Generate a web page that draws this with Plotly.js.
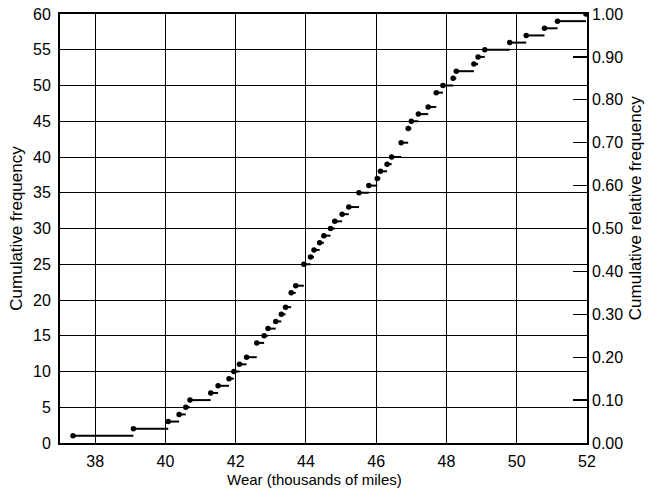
<!DOCTYPE html>
<html>
<head>
<meta charset="utf-8">
<script src="https://cdn.plot.ly/plotly-3.0.1.min.js"></script>
<style>html,body{margin:0;padding:0;background:#fff;}#chart{width:653px;height:493px;}</style>
</head>
<body>
<div id="chart"></div>
<script>
// Wear values (thousands of miles) at which the cumulative frequency steps up
const wear = [37.37, 39.09, 40.08, 40.39, 40.58, 40.70, 41.29, 41.50, 41.81, 41.95,
              42.11, 42.31, 42.60, 42.81, 42.92, 43.14, 43.30, 43.42, 43.58, 43.71,
              43.94, 44.13, 44.23, 44.39, 44.51, 44.70, 44.82, 45.03, 45.22, 45.51,
              45.79, 46.03, 46.12, 46.31, 46.44, 46.71, 46.91, 47.00, 47.20, 47.48,
              47.71, 47.90, 48.19, 48.28, 48.78, 48.90, 49.09, 49.80, 50.27, 50.79,
              51.16, 51.97];
// Cumulative frequency reached at each of those values
const cumFreq = [1, 2, 3, 4, 5, 6, 7, 8, 9, 10,
                 11, 12, 14, 15, 16, 17, 18, 19, 21, 22,
                 25, 26, 27, 28, 29, 30, 31, 32, 33, 35,
                 36, 37, 38, 39, 40, 42, 44, 45, 46, 47,
                 49, 50, 51, 52, 53, 54, 55, 56, 57, 58,
                 59, 60];
const totalCount = 60;
const xTicks = [38, 40, 42, 44, 46, 48, 50, 52];

// horizontal step segments (no risers), built from the data
const segX = [], segY = [];
for (let i = 0; i < wear.length - 1; i++) {
  segX.push(wear[i], wear[i + 1], null);
  segY.push(cumFreq[i], cumFreq[i], null);
}

const FONT = 'Liberation Sans, Arial, sans-serif';

const traces = [
  {x: segX, y: segY, mode: 'lines', line: {color: '#000', width: 2},
   hoverinfo: 'skip', showlegend: false},
  {x: wear, y: cumFreq, mode: 'markers', marker: {color: '#000', size: 5.5},
   showlegend: false},
  {x: [wear[0]], y: [cumFreq[0] / totalCount], yaxis: 'y2', mode: 'markers',
   marker: {opacity: 0}, hoverinfo: 'skip', showlegend: false}
];

const layout = {
  width: 653, height: 493,
  margin: {l: 60, r: 66, t: 14, b: 50, pad: 0},
  paper_bgcolor: '#fff', plot_bgcolor: '#fff',
  font: {family: FONT, size: 16, color: '#000'},
  showlegend: false,
  xaxis: {
    range: [37, 52], tickvals: xTicks, ticktext: xTicks.map(String),
    showgrid: true, gridcolor: '#000', gridwidth: 1,
    showline: true, linecolor: '#000', linewidth: 2, mirror: true,
    zeroline: false, ticks: '', ticklabelstandoff: 3,
    tickfont: {size: 16},
    title: {text: ''}
  },
  yaxis: {
    range: [0, 60], dtick: 5, tick0: 0,
    showgrid: true, gridcolor: '#000', gridwidth: 1,
    showline: true, linecolor: '#000', linewidth: 2, mirror: true,
    zeroline: false, ticks: '', ticklabelstandoff: 4,
    tickfont: {size: 16},
    title: {text: 'Cumulative frequency', font: {size: 17}, standoff: 6}
  },
  yaxis2: {
    overlaying: 'y', side: 'right', range: [0, 1], dtick: 0.1, tick0: 0,
    tickformat: '.2f', showgrid: false, zeroline: false,
    ticks: 'inside', ticklen: 14, tickwidth: 1.3, tickcolor: '#000',
    showline: false, ticklabelstandoff: 4,
    tickfont: {size: 16},
    title: {text: ''}
  },
  annotations: [
    {text: 'Wear (thousands of miles)', xref: 'paper', yref: 'paper',
     x: 0.482, y: -0.085, xanchor: 'center', yanchor: 'middle', showarrow: false,
     font: {family: FONT, size: 15, color: '#000'}},
    {text: 'Cumulative relative frequency', xref: 'paper', yref: 'paper',
     x: 1.0935, y: 0.548, xanchor: 'center', yanchor: 'middle', showarrow: false,
     textangle: -90, font: {family: FONT, size: 17, color: '#000'}}
  ]
};

Plotly.newPlot('chart', traces, layout, {displayModeBar: false, staticPlot: true});
</script>
</body>
</html>
